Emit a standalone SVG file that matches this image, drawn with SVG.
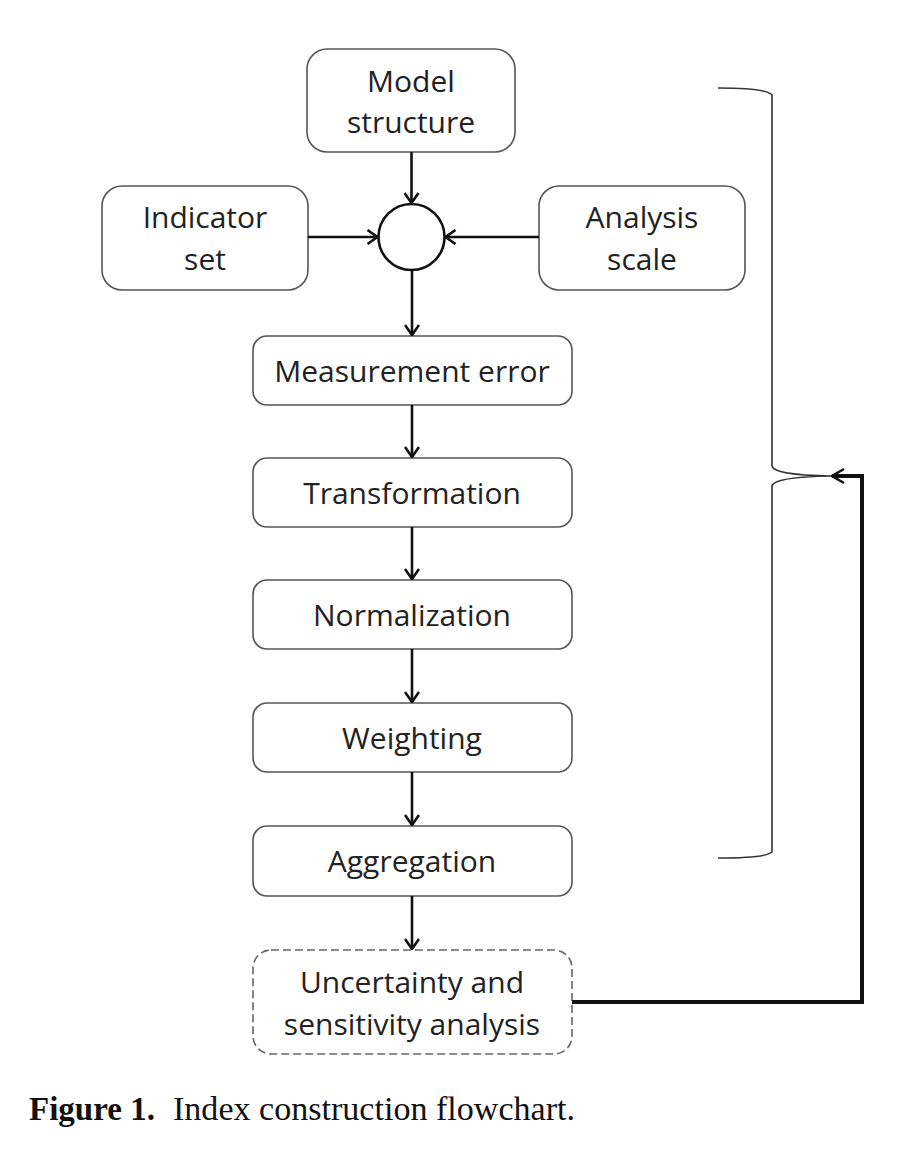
<svg xmlns="http://www.w3.org/2000/svg" width="918" height="1168" viewBox="0 0 918 1168">
<defs>
<style>
.box{fill:#fff;stroke:#555;stroke-width:1.6}
.dash{fill:#fff;stroke:#666;stroke-width:1.6;stroke-dasharray:8 4}
.lbl{font-family:"Open Sans","Liberation Sans",sans-serif;font-size:30px;fill:#222;text-anchor:middle}
.con{fill:none;stroke:#111;stroke-width:2.6}
.brace{fill:none;stroke:#333;stroke-width:1.6}
.cap{font-family:"Liberation Serif",serif;font-size:33px;fill:#111}
</style>
<marker id="ah" viewBox="0 0 12 16" refX="11" refY="8" markerWidth="12" markerHeight="16" markerUnits="userSpaceOnUse" orient="auto">
<path d="M1,1 L11,8 L1,15" fill="none" stroke="#111" stroke-width="2.6"/>
</marker>
</defs>
<rect width="918" height="1168" fill="#fff"/>
<g id="model-structure">
<rect class="box" x="307" y="49" width="208" height="103" rx="20"/>
<text class="lbl" x="411" y="92">Model</text>
<text class="lbl" x="411" y="133">structure</text>
</g>
<g id="indicator-set">
<rect class="box" x="102" y="186" width="206" height="104" rx="20"/>
<text class="lbl" x="205" y="228">Indicator</text>
<text class="lbl" x="205" y="270">set</text>
</g>
<g id="analysis-scale">
<rect class="box" x="539" y="186" width="206" height="104" rx="20"/>
<text class="lbl" x="642" y="228">Analysis</text>
<text class="lbl" x="642" y="270">scale</text>
</g>
<g id="junction">
<circle cx="411.5" cy="237" r="33" fill="#fff" stroke="#111" stroke-width="2.6"/>
</g>
<g id="measurement-error">
<rect class="box" x="253" y="336" width="319" height="69" rx="14"/>
<text class="lbl" x="412" y="382">Measurement error</text>
</g>
<g id="transformation">
<rect class="box" x="253" y="458" width="319" height="69" rx="14"/>
<text class="lbl" x="412" y="504">Transformation</text>
</g>
<g id="normalization">
<rect class="box" x="253" y="580" width="319" height="69" rx="14"/>
<text class="lbl" x="412" y="626">Normalization</text>
</g>
<g id="weighting">
<rect class="box" x="253" y="703" width="319" height="69" rx="14"/>
<text class="lbl" x="412" y="749">Weighting</text>
</g>
<g id="aggregation">
<rect class="box" x="253" y="826" width="319" height="70" rx="14"/>
<text class="lbl" x="412" y="872">Aggregation</text>
</g>
<g id="uncertainty">
<rect class="dash" x="253" y="950" width="319" height="104" rx="18"/>
<text class="lbl" x="412" y="993">Uncertainty and</text>
<text class="lbl" x="412" y="1035">sensitivity analysis</text>
</g>
<g id="brace">
<path class="brace" d="M718,88 Q766,88 772,95 L772,466 Q774,475 830,476 Q774,477 772,486 L772,852 Q766,858 718,858"/>
</g>
<g id="connectors">
<line class="con" x1="411.5" y1="152" x2="411.5" y2="203" marker-end="url(#ah)"/>
<line class="con" x1="308" y1="237" x2="377.5" y2="237" marker-end="url(#ah)"/>
<line class="con" x1="539" y1="237" x2="445.5" y2="237" marker-end="url(#ah)"/>
<line class="con" x1="412" y1="270" x2="412" y2="335" marker-end="url(#ah)"/>
<line class="con" x1="412" y1="405" x2="412" y2="457" marker-end="url(#ah)"/>
<line class="con" x1="412" y1="527" x2="412" y2="579" marker-end="url(#ah)"/>
<line class="con" x1="412" y1="649" x2="412" y2="702" marker-end="url(#ah)"/>
<line class="con" x1="412" y1="772" x2="412" y2="825" marker-end="url(#ah)"/>
<line class="con" x1="412" y1="896" x2="412" y2="949" marker-end="url(#ah)"/>
<path d="M572,1002 L862,1002 L862,476 L832,476" fill="none" stroke="#111" stroke-width="4"/>
<path d="M844,469 L832,476 L844,483" fill="none" stroke="#111" stroke-width="2.6"/>
</g>
<g id="caption">
<text class="cap" x="29" y="1120"><tspan font-weight="bold">Figure 1.</tspan><tspan x="173" textLength="402" lengthAdjust="spacingAndGlyphs">Index construction flowchart.</tspan></text>
</g>
</svg>
